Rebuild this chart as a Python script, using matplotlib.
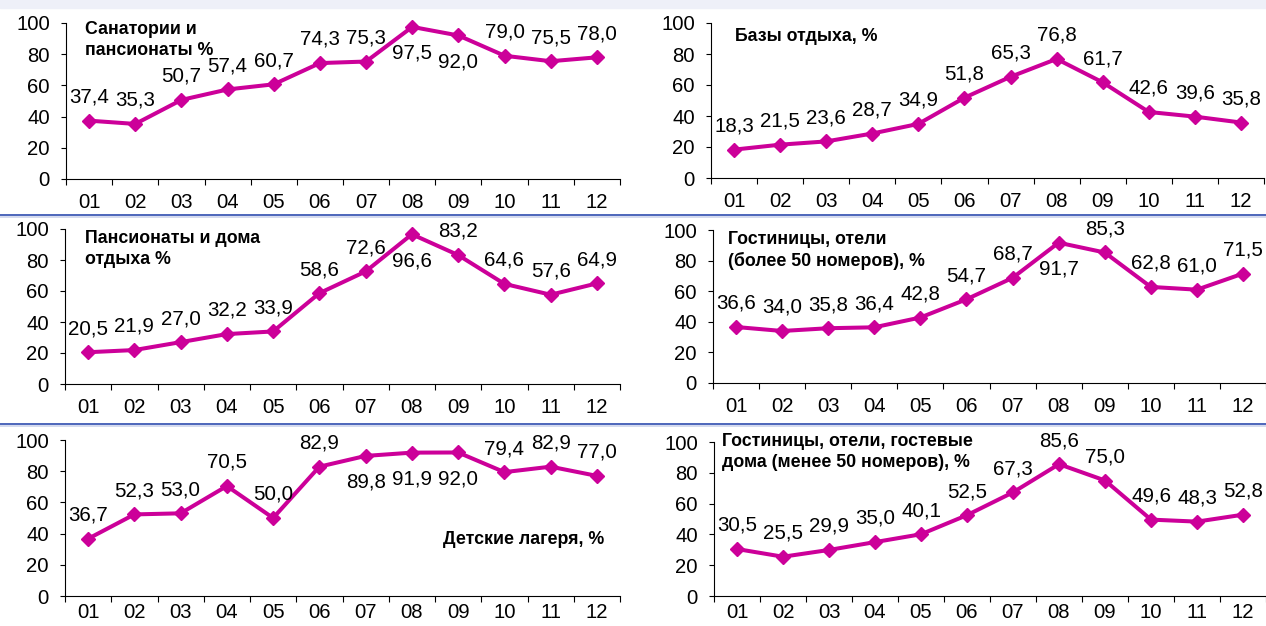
import matplotlib.pyplot as plt
import numpy as np

plt.rcParams['font.family'] = ['Liberation Sans', 'DejaVu Sans']

W, H = 1266, 626

months = ['01', '02', '03', '04', '05', '06', '07', '08', '09', '10', '11', '12']

sanatorii = [37.4, 35.3, 50.7, 57.4, 60.7, 74.3, 75.3, 97.5, 92.0, 79.0, 75.5, 78.0]
bazy = [18.3, 21.5, 23.6, 28.7, 34.9, 51.8, 65.3, 76.8, 61.7, 42.6, 39.6, 35.8]
pansionaty = [20.5, 21.9, 27.0, 32.2, 33.9, 58.6, 72.6, 96.6, 83.2, 64.6, 57.6, 64.9]
gostinicy_big = [36.6, 34.0, 35.8, 36.4, 42.8, 54.7, 68.7, 91.7, 85.3, 62.8, 61.0, 71.5]
lagerya = [36.7, 52.3, 53.0, 70.5, 50.0, 82.9, 89.8, 91.9, 92.0, 79.4, 82.9, 77.0]
gostinicy_small = [30.5, 25.5, 29.9, 35.0, 40.1, 52.5, 67.3, 85.6, 75.0, 49.6, 48.3, 52.8]

LINE = '#cc0099'

# values, title, axes box in px (left, right, top, bottom), title pos, title align,
# labels placed under the point, x label pad
panels = [
    (sanatorii, 'Санатории и\nпансионаты %', (66, 620, 23, 179), (85, 21), 'left', [7, 8], 10),
    (bazy, 'Базы отдыха, %', (711, 1264, 23, 178), (735, 28), 'left', [], 10),
    (pansionaty, 'Пансионаты и дома\nотдыха %', (65, 620, 229, 384), (85, 230), 'left', [7], 10),
    (gostinicy_big, 'Гостиницы, отели\n(более 50 номеров), %', (713, 1266, 230, 383), (728, 231), 'left', [7], 10),
    (lagerya, 'Детские лагеря, %', (65, 620, 440, 596), (604, 531), 'right', [6, 7, 8], 5),
    (gostinicy_small, 'Гостиницы, отели, гостевые\nдома (менее 50 номеров), %', (714, 1266, 442, 596), (722, 433), 'left', [], 5),
]

fig = plt.figure(figsize=(W / 100, H / 100), dpi=100)

# светлая полоса сверху
fig.patches.append(plt.Rectangle((0, 1 - 8 / H), 1, 8 / H, transform=fig.transFigure,
                                 color='#eef0f8', zorder=0))

# разделители между рядами графиков
for yy in (215, 424):
    fig.add_artist(plt.Line2D([0, 1], [1 - (yy + 2) / H] * 2, transform=fig.transFigure,
                              color='#cdd4ec', lw=1.2))
    fig.add_artist(plt.Line2D([0, 1], [1 - yy / H] * 2, transform=fig.transFigure,
                              color='#3f5bb5', lw=1.3))

x = np.arange(len(months))

for vals, title, box, tpos, talign, below, xpad in panels:
    l, r, t, b = box
    ax = fig.add_axes([l / W, 1 - b / H, (r - l) / W, (b - t) / H])
    ax.plot(x, vals, color=LINE, lw=2.9, marker='D', ms=7, mec=LINE, mew=1, clip_on=False)
    ax.set_xlim(-0.5, 11.5)
    ax.set_ylim(0, 100)
    ax.set_yticks(range(0, 101, 20))
    ax.set_xticks(np.arange(-0.5, 12, 1))
    ax.set_xticklabels([])
    ax.set_xticks(x, minor=True)
    ax.set_xticklabels(months, minor=True)
    ax.tick_params(axis='x', which='major', direction='out', length=4.5, width=0.8)
    ax.tick_params(axis='x', which='minor', length=0, pad=xpad, labelsize=14.6)
    ax.tick_params(axis='y', direction='out', length=3.6, width=0.8, pad=8, labelsize=14.6)
    for s in ('top', 'right'):
        ax.spines[s].set_visible(False)
    for s in ('left', 'bottom'):
        ax.spines[s].set_linewidth(0.8)
    ax.patch.set_alpha(0)

    for i, v in enumerate(vals):
        dy = -19 if i in below else 17
        ax.annotate(f'{v:.1f}'.replace('.', ','), (i, v), xytext=(0, dy),
                    textcoords='offset points', ha='center', va='center',
                    fontsize=14.8, annotation_clip=False)

    fig.text(tpos[0] / W, 1 - tpos[1] / H, title, ha=talign, va='top',
             fontsize=12.8, fontweight='bold', linespacing=1.3)

fig.savefig('out.png', dpi=100)
